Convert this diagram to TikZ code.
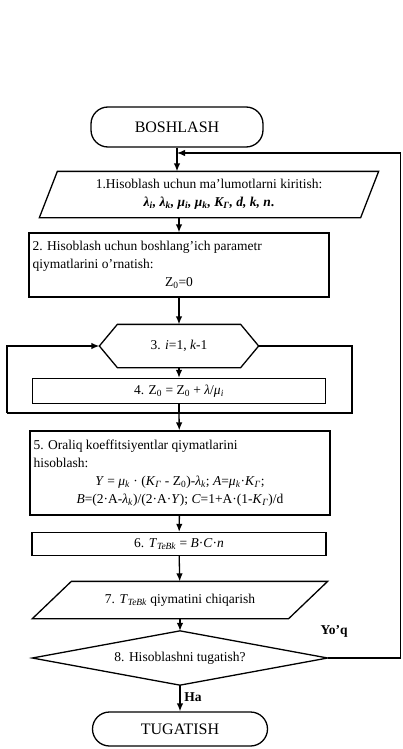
\documentclass[tikz,border=0pt]{standalone}
\usepackage{fontspec}
\setmainfont{Liberation Serif}
\usetikzlibrary{arrows.meta,calc}
\newcommand\sbs[1]{\textsubscript{#1}}
\begin{document}
\begin{tikzpicture}[x=1pt,y=-1pt, line width=1.3pt,
  arr/.style={-{Latex[length=8pt,width=6.5pt]}},
  txt/.style={inner sep=0pt, font=\fontsize{13.5}{18}\selectfont},
  term/.style={draw, rounded corners=17pt, inner sep=0pt, font=\fontsize{16}{18}\selectfont},
  lbl/.style={inner sep=0pt, font=\fontsize{13.5}{15}\selectfont\bfseries},
]
\useasboundingbox (0,0) rectangle (402,749);

% terminals
\node[term, minimum width=172pt, minimum height=40pt] (start) at (177,127) {BOSHLASH};
\node[term, minimum width=175pt, minimum height=34pt] (end) at (180,729) {TUGATISH};

% 1 input
\node[txt, minimum width=320pt, minimum height=45pt, align=center] (inp) at (209,194.5)
  {1.Hisoblash uchun ma'lumotlarni kiritish:\\
   \bfseries\itshape λ\sbs{i}, λ\sbs{k}, μ\sbs{i}, μ\sbs{k}, K\sbs{Γ}, d, k, n\upshape.};
\draw ($(inp.north west)+(9,0)$) -- ($(inp.north east)+(9,0)$) -- ($(inp.south east)+(-9,0)$) -- ($(inp.south west)+(-9,0)$) -- cycle;

% 2 init
\node[draw, inner sep=0pt, minimum width=300pt, minimum height=64pt] (init) at (179,265)
  {\parbox{293pt}{\fontsize{13.5}{18}\selectfont\raggedright 2. Hisoblash uchun boshlang'ich parametr\\ qiymatlarini o'rnatish:\par\centering Z\sbs{0}=0\par}};

% 3 loop
\node[txt, minimum width=158pt, minimum height=42pt] (loop) at (179,346) {3. \textit{i}=1, \textit{k}-1};
\draw (loop.west) -- ($(loop.north west)+(18,0)$) -- ($(loop.north east)+(-18,0)$) -- (loop.east) -- ($(loop.south east)+(-18,0)$) -- ($(loop.south west)+(18,0)$) -- cycle;

% 4
\node[draw, txt, minimum width=293pt, minimum height=25pt] (b4) at (179,391)
  {4. Z\sbs{0} = Z\sbs{0} + \textit{λ}/\textit{μ}\sbs{\textit{i}}};

% 5
\node[draw, inner sep=0pt, minimum width=300pt, minimum height=84pt] (b5) at (180,473)
  {\parbox{293pt}{\fontsize{13.5}{18}\selectfont\raggedright 5. Oraliq koeffitsiyentlar qiymatlarini\\ hisoblash:\par\centering
   \textit{Y} = \textit{μ}\sbs{\textit{k}} · (\textit{K}\sbs{\textit{Γ}} - Z\sbs{0})-\textit{λ}\sbs{\textit{k}}; \textit{A}=\textit{μ}\sbs{\textit{k}}·\textit{K}\sbs{\textit{Γ}};\\
   \textit{B}=(2·A-\textit{λ}\sbs{\textit{k}})/(2·A·\textit{Y}); \textit{C}=1+A·(1-\textit{K}\sbs{\textit{Γ}})/d\par}};

% 6
\node[draw, txt, minimum width=294pt, minimum height=23pt] (b6) at (179,544)
  {6. \textit{T}\sbs{\textit{TeBk}} = \textit{B}·\textit{C}·\textit{n}};

% 7 output
\node[txt, minimum width=255pt, minimum height=36pt] (out) at (180,600)
  {7. \textit{T}\sbs{\textit{TeBk}} qiymatini chiqarish};
\draw ($(out.north west)+(19.5,0)$) -- ($(out.north east)+(19.5,0)$) -- ($(out.south east)+(-19.5,0)$) -- ($(out.south west)+(-19.5,0)$) -- cycle;

% 8 decision
\node[txt, minimum width=294pt, minimum height=53pt] (dec) at (180,658) {8. Hisoblashni tugatish?};
\draw (dec.west) -- (dec.north) -- (dec.east) -- (dec.south) -- cycle;

% coordinates
\coordinate (jt) at (177,153);
\coordinate (ru) at (400.5,153);
\coordinate (j) at (179,413);
\coordinate (ll) at (7,413);
\coordinate (rr) at (352,413);

% main arrows
\draw[arr] (start) -- (start |- inp.north);
\draw[arr] (inp.south -| init) -- (init);
\draw[arr] (init) -- (loop);
\draw[arr] (loop) -- (b4);
\draw (b4.south) |- (ll);
\draw[arr] (ll) |- (loop.west);
\draw (loop.east) -| (rr) -- (j);
\draw[arr] (j) -- (b5);
\draw[arr] (b5) -- (b6);
\draw[arr] (b6) -- (out);
\draw[arr] (out) -- (dec);
\draw[arr] (dec) -- (end);
\node[lbl] (ha) at (193,697) {Ha};
\draw[arr] (dec.east) -| (ru) -- (jt);
\node[lbl] (no) at (334,631) {Yo'q};
\end{tikzpicture}
\end{document}
